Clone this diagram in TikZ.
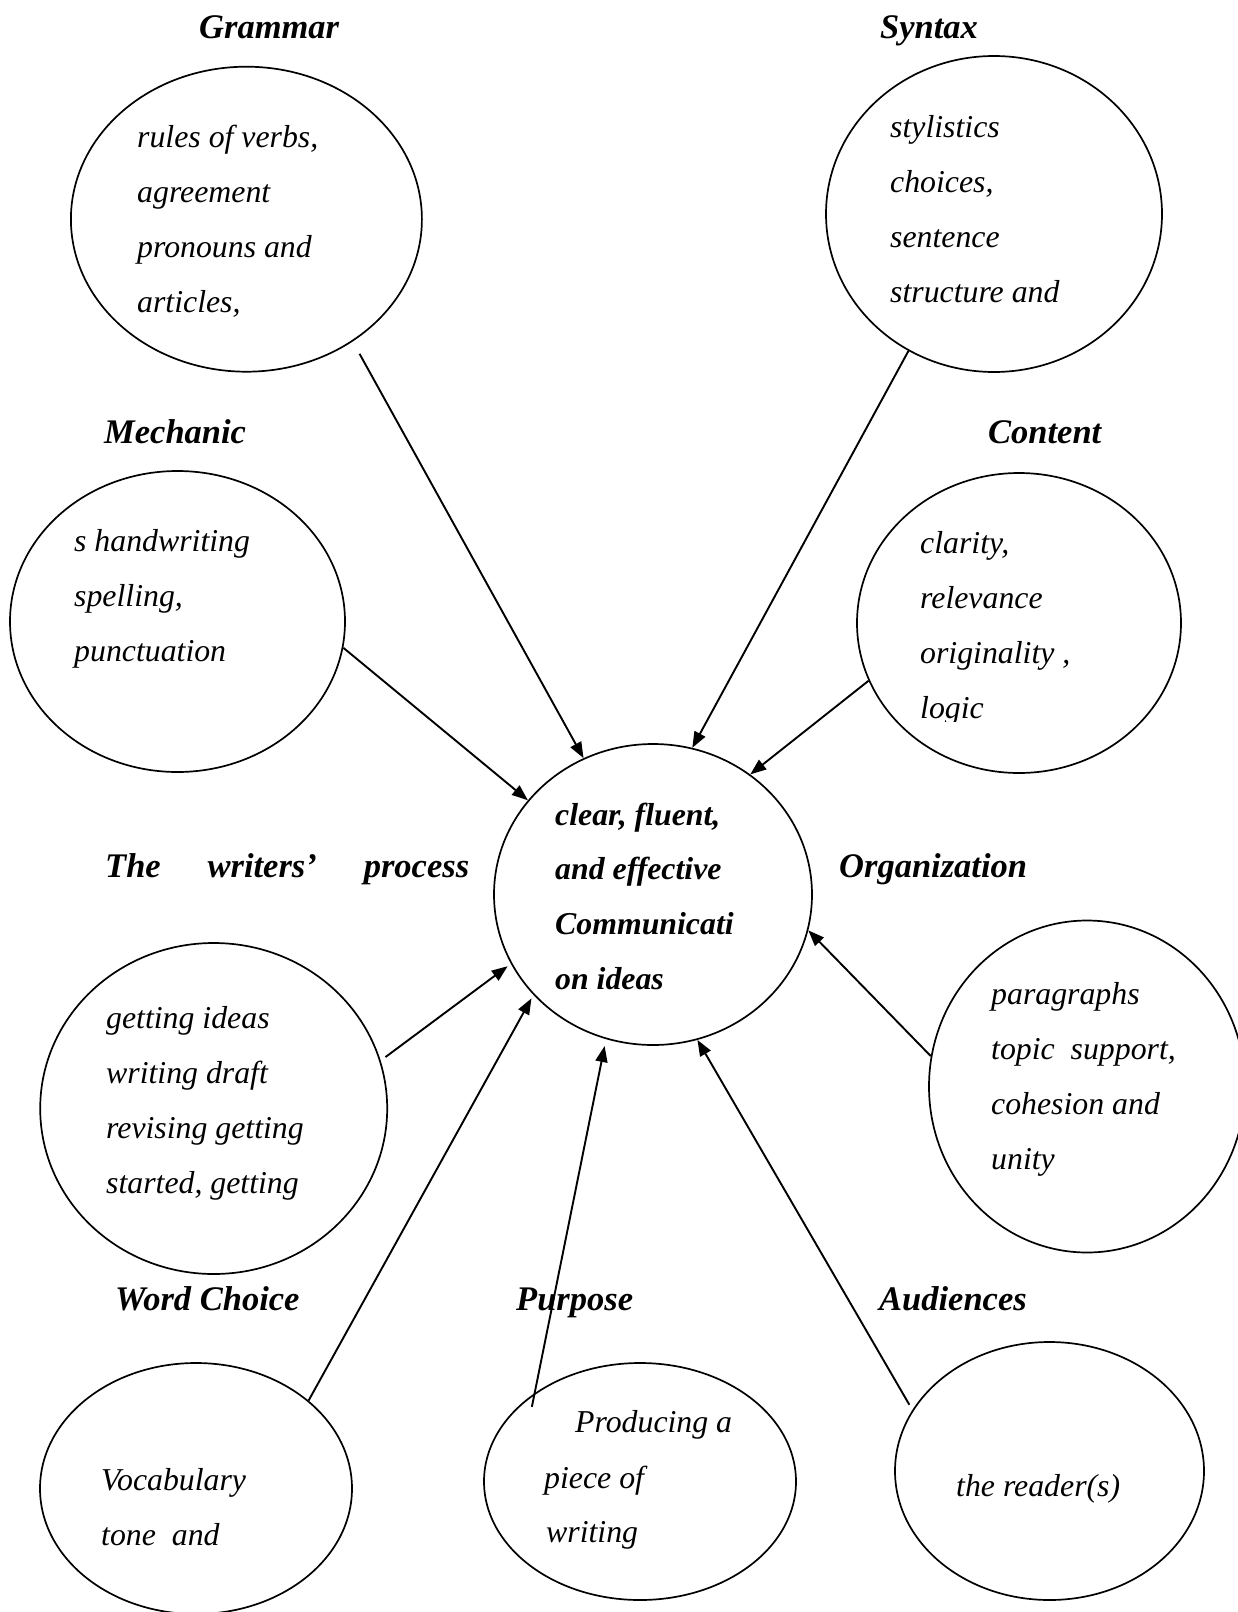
\documentclass[tikz,border=0pt]{standalone}
\usepackage{fontspec}
\setmainfont{Liberation Serif}
\usetikzlibrary{arrows.meta,shapes.geometric}
\begin{document}
\begin{tikzpicture}[x=1pt,y=-1pt,
  body/.style={font=\fontsize{31.8}{38}\selectfont\itshape, inner sep=0pt, anchor=base west},
  head/.style={font=\fontsize{34.5}{40}\selectfont\bfseries\itshape, inner sep=0pt, anchor=base west},
  ctrtxt/.style={font=\fontsize{31.8}{38}\selectfont\bfseries\itshape, inner sep=0pt, anchor=base west},
  bubble/.style={ellipse, draw, line width=1.7pt, inner sep=0pt},
  arr/.style={line width=1.9pt, -{Triangle[length=16pt,width=12pt]}}]
\useasboundingbox (0,0) rectangle (1238,1612);
\fill[white] (0,0) rectangle (1238,1612);

% headings
\node[head] (hG) at (199,38) {Grammar};
\node[head] (hS) at (880,38) {Syntax};
\node[head] (hM) at (104,443) {Mechanic};
\node[head] (hCt) at (988,443) {Content};
\node[head] (hW) at (105,877) {\makebox[364pt][s]{The writers’ process}};
\node[head] (hO) at (839,877) {Organization};
\node[head] (hWC) at (115,1310) {Word Choice};
\node[head] (hP) at (516,1310) {Purpose};
\node[head] (hA) at (879,1310) {Audiences};

% bubbles
\node[bubble, minimum width=351pt, minimum height=305pt] (G) at (246.4,219.2) {};
\node[bubble, minimum width=336pt, minimum height=316pt] (S) at (994,214) {};
\node[bubble, minimum width=335pt, minimum height=301pt] (M) at (177.5,621.5) {};
\node[bubble, minimum width=324pt, minimum height=300pt] (Ct) at (1019,623) {};
\node[bubble, minimum width=318pt, minimum height=301pt] (C) at (653,894.5) {};
\node[bubble, minimum width=347pt, minimum height=331pt] (W) at (213.7,1108.5) {};
\node[bubble, minimum width=316pt, minimum height=332pt] (O) at (1087,1086.5) {};
\node[bubble, minimum width=312pt, minimum height=251pt] (WC) at (196,1488.5) {};
\node[bubble, minimum width=312pt, minimum height=237pt] (P) at (640,1481.5) {};
\node[bubble, minimum width=309pt, minimum height=258pt] (A) at (1049.5,1471) {};

% texts
\foreach \t [count=\i] in {{rules of verbs,},agreement,{pronouns and},{articles,}}
  \node[body] (g\i) at (137,{147+55*(\i-1)}) {\t};
\foreach \t [count=\i] in {stylistics,{choices,},sentence,{structure and}}
  \node[body] (s\i) at (890,{137+55*(\i-1)}) {\t};
\foreach \t [count=\i] in {{s handwriting},{spelling,},punctuation}
  \node[body] (m\i) at (74,{551+55*(\i-1)}) {\t};
\begin{scope}
  \clip (880,480) rectangle (1200,721);
  \foreach \t [count=\i] in {{clarity,},relevance,{originality ,},logic}
    \node[body] (ct\i) at (920,{553+55*(\i-1)}) {\t};
\end{scope}
\foreach \t [count=\i] in {{clear, fluent,},{and effective},Communicati,{on ideas}}
  \node[ctrtxt] (c\i) at (555,{825+54.7*(\i-1)}) {\t};
\foreach \t [count=\i] in {{getting ideas},{writing draft},{revising getting},{started, getting}}
  \node[body] (w\i) at (106,{1028+55*(\i-1)}) {\t};
\foreach \t [count=\i] in {paragraphs,{topic\ \ support,},{cohesion and},unity}
  \node[body] (o\i) at (991,{1004+55*(\i-1)}) {\t};
\node[body] (wc1) at (101,1490) {Vocabulary};
\node[body] (wc2) at (101,1545) {tone\ \ and};
\node[body] (p1) at (575,1432) {Producing a};
\node[body] (p2) at (544,1488) {piece of};
\node[body] (p3) at (546,1542) {writing};
\node[body] (a1) at (956,1496) {the reader(s)};

% connectors
\draw[arr, shorten <=14pt] (G.-49) -- (C.117);
\draw[arr] (S.-122) -- (C.75);
\draw[arr] (M.-9) -- (C.143);
\draw[arr] (Ct.201) -- (C.51);
\draw[arr] (O.169) -- (C.-13);
\draw[arr, shorten <=6pt, shorten >=4pt] (W.16) -- (C.206);
\draw[arr, shorten >=4pt] (WC.38) -- (C.220);
\draw[arr, shorten <=-14pt, shorten >=7pt] (P.140) -- (C.252);
\draw[arr, shorten <=6pt] (A.156) -- (C.287);
\end{tikzpicture}
\end{document}
